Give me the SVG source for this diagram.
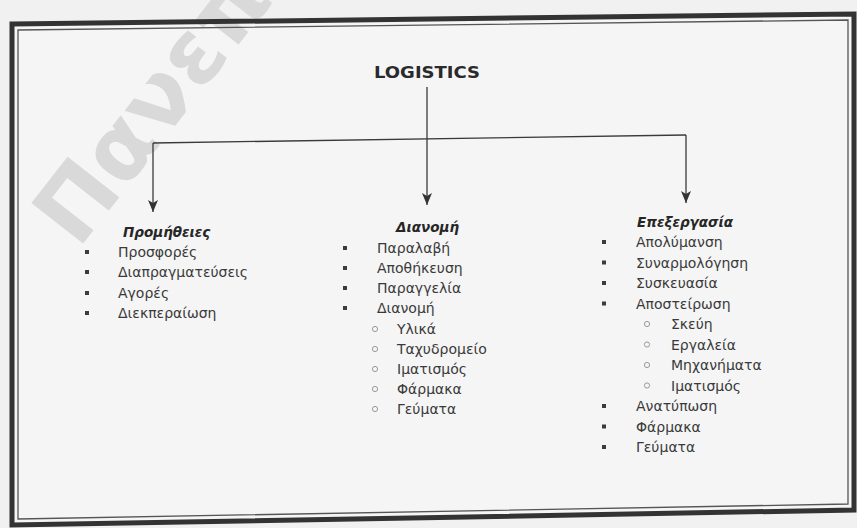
<svg xmlns="http://www.w3.org/2000/svg" width="857" height="528" viewBox="0 0 857 528">
  <style>
    .item{font-family:"DejaVu Sans","Liberation Sans",sans-serif;font-size:14px;fill:#3a3a3a}
    .head{font-family:"DejaVu Sans","Liberation Sans",sans-serif;font-size:13.5px;font-weight:bold;font-style:italic;fill:#262626}
    .title{font-family:"DejaVu Sans","Liberation Sans",sans-serif;font-size:16.5px;font-weight:bold;fill:#2a2a2a}
    .sq{fill:#3c3c3c}
    .ring{fill:none;stroke:#9a9a9a;stroke-width:1}
    .link{stroke:#3a3a3a;stroke-width:1.3;fill:none}
    .wm{font-family:"DejaVu Sans","Liberation Sans",sans-serif;font-size:90px;font-weight:bold;fill:#d9d9d9}
  </style>
  <defs>
    <marker id="arrow" markerUnits="userSpaceOnUse" markerWidth="14" markerHeight="12" refX="12" refY="5" orient="auto">
      <path d="M0,0 L12,5 L0,10 L3,5 z" fill="#333"/>
    </marker>
  </defs>

  <!-- page -->
  <rect width="857" height="528" fill="#f1f1f1"/>
  <polygon points="12,24 854,14 854,510 12,525" fill="#f5f5f5"/>

  <!-- watermark -->
  <text class="wm" transform="translate(78,250) rotate(-52)">Πανεπ</text>

  <!-- double frame -->
  <g id="frame">
    <polygon points="12,24 854,14 854,510 12,525" fill="none" stroke="#333" stroke-width="5"/>
    <polygon points="18,30 848,20 848,504 18,519" fill="none" stroke="#555" stroke-width="1.3"/>
  </g>

  <!-- connectors -->
  <g id="connectors">
    <line class="link" x1="427" y1="87" x2="427" y2="205" marker-end="url(#arrow)"/>
    <line class="link" x1="153" y1="143" x2="686" y2="135"/>
    <line class="link" x1="153" y1="143" x2="153" y2="212" marker-end="url(#arrow)"/>
    <line class="link" x1="686" y1="135" x2="686" y2="203" marker-end="url(#arrow)"/>
  </g>

  <g id="logistics">
    <text class="title" x="427" y="78" text-anchor="middle" textLength="106" lengthAdjust="spacingAndGlyphs">LOGISTICS</text>
  </g>

  <g id="promitheies">
    <text class="head" x="123" y="237">Προμήθειες</text>
    <rect class="sq" x="85" y="250" width="4" height="4"/>
    <rect class="sq" x="85" y="270" width="4" height="4"/>
    <rect class="sq" x="85" y="291" width="4" height="4"/>
    <rect class="sq" x="85" y="311" width="4" height="4"/>
    <text class="item" x="118" y="257">Προσφορές</text>
    <text class="item" x="118" y="277">Διαπραγματεύσεις</text>
    <text class="item" x="118" y="298">Αγορές</text>
    <text class="item" x="118" y="318">Διεκπεραίωση</text>
  </g>

  <g id="dianomi">
    <text class="head" x="396" y="232">Διανομή</text>
    <rect class="sq" x="343" y="246" width="4" height="4"/>
    <rect class="sq" x="343" y="266" width="4" height="4"/>
    <rect class="sq" x="343" y="286" width="4" height="4"/>
    <rect class="sq" x="343" y="306" width="4" height="4"/>
    <text class="item" x="377" y="253">Παραλαβή</text>
    <text class="item" x="377" y="273">Αποθήκευση</text>
    <text class="item" x="377" y="293">Παραγγελία</text>
    <text class="item" x="377" y="313">Διανομή</text>
    <circle class="ring" cx="375" cy="329" r="2.6"/>
    <circle class="ring" cx="375" cy="349" r="2.6"/>
    <circle class="ring" cx="375" cy="369" r="2.6"/>
    <circle class="ring" cx="375" cy="389" r="2.6"/>
    <circle class="ring" cx="375" cy="409" r="2.6"/>
    <text class="item" x="397" y="334">Υλικά</text>
    <text class="item" x="397" y="354">Ταχυδρομείο</text>
    <text class="item" x="397" y="374">Ιματισμός</text>
    <text class="item" x="397" y="394">Φάρμακα</text>
    <text class="item" x="397" y="414">Γεύματα</text>
  </g>

  <g id="epexergasia">
    <text class="head" x="637" y="227">Επεξεργασία</text>
    <rect class="sq" x="602" y="240" width="4" height="4"/>
    <rect class="sq" x="602" y="260.5" width="4" height="4"/>
    <rect class="sq" x="602" y="281" width="4" height="4"/>
    <rect class="sq" x="602" y="301.5" width="4" height="4"/>
    <text class="item" x="636" y="247">Απολύμανση</text>
    <text class="item" x="636" y="267.5">Συναρμολόγηση</text>
    <text class="item" x="636" y="288">Συσκευασία</text>
    <text class="item" x="636" y="308.5">Αποστείρωση</text>
    <circle class="ring" cx="647" cy="324" r="2.6"/>
    <circle class="ring" cx="647" cy="344.5" r="2.6"/>
    <circle class="ring" cx="647" cy="365" r="2.6"/>
    <circle class="ring" cx="647" cy="385.5" r="2.6"/>
    <text class="item" x="671" y="329">Σκεύη</text>
    <text class="item" x="671" y="349.5">Εργαλεία</text>
    <text class="item" x="671" y="370">Μηχανήματα</text>
    <text class="item" x="671" y="390.5">Ιματισμός</text>
    <rect class="sq" x="602" y="404" width="4" height="4"/>
    <rect class="sq" x="602" y="424.5" width="4" height="4"/>
    <rect class="sq" x="602" y="445" width="4" height="4"/>
    <text class="item" x="636" y="411">Ανατύπωση</text>
    <text class="item" x="636" y="431.5">Φάρμακα</text>
    <text class="item" x="636" y="452">Γεύματα</text>
  </g>
</svg>
